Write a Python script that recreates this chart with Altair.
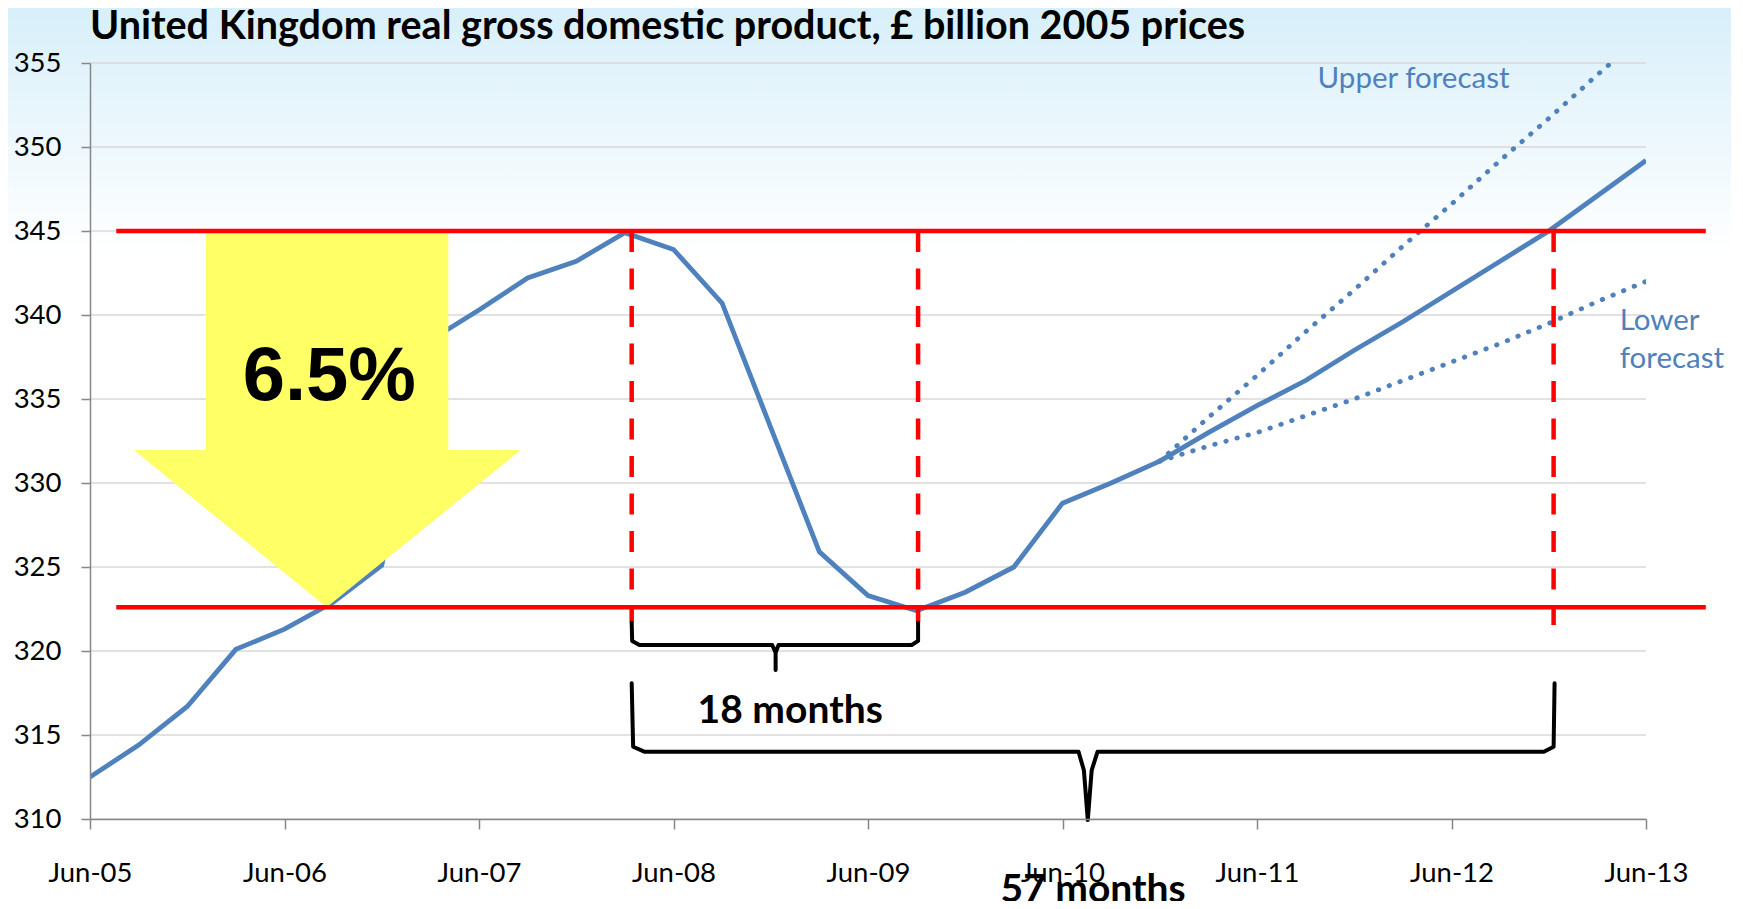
import altair as alt
import pandas as pd

TITLE = "United Kingdom real gross domestic product, £ billion 2005 prices"

# ---- categories / ticks ----
quarters = ["Jun-05", "Sep-05", "Dec-05", "Mar-06", "Jun-06", "Sep-06", "Dec-06",
            "Mar-07", "Jun-07", "Sep-07", "Dec-07", "Mar-08", "Jun-08", "Sep-08",
            "Dec-08", "Mar-09", "Jun-09", "Sep-09", "Dec-09", "Mar-10", "Jun-10",
            "Sep-10", "Dec-10", "Mar-11", "Jun-11", "Sep-11", "Dec-11", "Mar-12",
            "Jun-12", "Sep-12", "Dec-12", "Mar-13", "Jun-13"]
tick_labels = ["Jun-05", "Jun-06", "Jun-07", "Jun-08", "Jun-09", "Jun-10",
               "Jun-11", "Jun-12", "Jun-13"]
y_ticks = [310, 315, 320, 325, 330, 335, 340, 345, 350, 355]

# ---- series (GBP bn, 2005 prices) ----
actual_gdp = [312.5, 314.4, 316.7, 320.1, 321.3, 322.9, 325.1, 338.5, 340.3,
              342.2, 343.2, 344.9, 343.9, 340.7, 333.3, 325.9, 323.3, 322.4,
              323.5, 325.0, 328.8, 330.0, 331.3]          # Jun-05 .. Dec-10
central_fc = [331.3, 333.0, 334.6, 336.1, 337.9, 339.6, 341.4, 343.2, 345.0,
              347.1, 349.2]                                # Dec-10 .. Jun-13
upper_fc = [331.3, 333.9, 336.4, 339.0, 341.5, 344.1, 346.6, 349.2, 351.7,
            354.3, 356.8]
lower_fc = [331.3, 332.2, 333.0, 334.0, 335.0, 336.1, 337.2, 338.3, 339.5,
            340.8, 342.0]

peak_level = 345.0
trough_level = 322.6
peak_q, trough_q, recovery_q = "Mar-08", "Sep-09", "Dec-12"

# ---- tables built from the lists ----
fc_start = quarters.index("Dec-10")
actual_df = pd.DataFrame({"q": list(range(len(actual_gdp))), "v": actual_gdp})
central_df = pd.DataFrame({"q": [fc_start + i for i in range(len(central_fc))], "v": central_fc})
upper_df = pd.DataFrame({"q": [fc_start + i for i in range(len(upper_fc))], "v": upper_fc})
lower_df = pd.DataFrame({"q": [fc_start + i for i in range(len(lower_fc))], "v": lower_fc})
grid_df = pd.DataFrame({"v": y_ticks})

# annotation geometry (in quarter-index / GBP bn units)
pk, tr, rc = quarters.index(peak_q) + 0.14, quarters.index(trough_q) + 0.03, quarters.index(recovery_q) + 0.1
hlines_df = pd.DataFrame({"x0": [0.54, 0.54], "x1": [33.23, 33.23], "v": [peak_level, trough_level]})
vlines_df = pd.DataFrame({"x": [pk, tr, rc], "y0": [peak_level] * 3, "y1": [321.7, 321.7, 321.55]})

shaft_df = pd.DataFrame({"x0": [2.386], "x1": [7.369], "y0": [331.96], "y1": [peak_level]})
head_df = pd.DataFrame({"x": [0.905, 4.868, 8.857],
                        "top": [331.96, 331.96, 331.96],
                        "bot": [331.96, trough_level, 331.96]})

small_brace = [(11.14, 321.7), (11.15, 320.6), (11.30, 320.36), (14.03, 320.36),
               (14.10, 319.9), (14.10, 318.87), (14.10, 319.9), (14.16, 320.36),
               (16.90, 320.36), (17.03, 320.6), (17.03, 321.7)]
big_brace = [(11.14, 318.08), (11.17, 314.3), (11.41, 314.0), (20.33, 314.0),
             (20.44, 312.9), (20.52, 309.94), (20.60, 312.9), (20.72, 314.0),
             (29.90, 314.0), (30.10, 314.3), (30.12, 318.08)]
brace_rows = []
for name, pts in (("s", small_brace), ("b", big_brace)):
    for k, (x, y) in enumerate(pts):
        brace_rows.append({"brace": name, "k": k, "x": x, "y": y})
brace_df = pd.DataFrame(brace_rows)

W, H = 1556, 756
BLUE = "#4f81bd"
RED = "#ff0000"

xs = alt.Scale(domain=[0, 32], nice=False, zero=False)
ys = alt.Scale(domain=[310, 355], nice=False, zero=False)

label_expr = "[" + ",".join("'%s'" % t for t in tick_labels) + "][round(datum.value/4)]"

x_axis = alt.Axis(values=list(range(0, 33, 4)), labelExpr=label_expr, grid=False,
                  domainColor="#868686", domainWidth=1.5, tickColor="#868686",
                  tickWidth=1.5, tickSize=10, labelFont="Lato", labelFontSize=27.5,
                  labelColor="#000000", labelPadding=52, labelBaseline="alphabetic",
                  labelFlush=False, labelOverlap=False, title=None, zindex=1)
y_axis = alt.Axis(values=y_ticks, grid=False, domainColor="#868686", domainWidth=1.5,
                  tickColor="#868686", tickWidth=1.5, tickSize=9, labelFont="Lato",
                  labelFontSize=27.5, labelColor="#000000", labelPadding=20,
                  title=None, zindex=1)

one = pd.DataFrame({"a": [0]})

bg = alt.Chart(one).mark_rect(
    fill=alt.LinearGradient(gradient="linear", x1=0, x2=0, y1=0, y2=1,
                            stops=[alt.GradientStop(color="#d6eff9", offset=0),
                                   alt.GradientStop(color="#e2f3fb", offset=0.28),
                                   alt.GradientStop(color="#f0f9fd", offset=0.64),
                                   alt.GradientStop(color="#ffffff", offset=1)])
).encode(x=alt.value(-90), x2=alt.value(W + 90), y=alt.value(-63), y2=alt.value(187))

title = alt.Chart(pd.DataFrame({"t": [TITLE]})).mark_text(
    font="Lato", fontWeight="bold", fontSize=39.5, color="#000000", align="left",
    baseline="alphabetic"
).encode(x=alt.value(0), y=alt.value(-24), text="t:N")

grid = alt.Chart(grid_df).mark_rule(color="#d9d9d9", strokeWidth=1.3).encode(
    y=alt.Y("v:Q", scale=ys, axis=y_axis))

def line(df, dotted=False):
    kw = dict(color=BLUE, strokeWidth=4.8, clip=True)
    if dotted:
        kw.update(strokeDash=[0.5, 11], strokeCap="round")
    return alt.Chart(df).mark_line(**kw).encode(
        x=alt.X("q:Q", scale=xs, axis=x_axis), y=alt.Y("v:Q", scale=ys, axis=y_axis))

upper = line(upper_df, True)
lower = line(lower_df, True)
actual = line(actual_df)
central = line(central_df)

shaft = alt.Chart(shaft_df).mark_rect(color="#ffff66", opacity=1).encode(
    x=alt.X("x0:Q", scale=xs), x2="x1:Q", y=alt.Y("y0:Q", scale=ys), y2="y1:Q")
head = alt.Chart(head_df).mark_area(color="#ffff66", opacity=1).encode(
    x=alt.X("x:Q", scale=xs), y=alt.Y("top:Q", scale=ys), y2="bot:Q")

hlines = alt.Chart(hlines_df).mark_rule(color=RED, strokeWidth=4.5).encode(
    x=alt.X("x0:Q", scale=xs), x2="x1:Q", y=alt.Y("v:Q", scale=ys))
vlines = alt.Chart(vlines_df).mark_rule(color=RED, strokeWidth=4.5, strokeDash=[21, 16.5]).encode(
    x=alt.X("x:Q", scale=xs), y=alt.Y("y0:Q", scale=ys), y2="y1:Q")

braces = alt.Chart(brace_df).mark_line(color="#000000", strokeWidth=4, strokeJoin="round",
                                       strokeCap="round").encode(
    x=alt.X("x:Q", scale=xs), y=alt.Y("y:Q", scale=ys), detail="brace:N", order="k:Q")

def text(df, **kw):
    return alt.Chart(df).mark_text(**kw).encode(
        x=alt.X("x:Q", scale=xs), y=alt.Y("y:Q", scale=ys), text="t:N")

pct = text(pd.DataFrame({"x": [4.92], "y": [334.94], "t": ["6.5%"]}),
           font="Liberation Sans", fontWeight="bold", fontSize=76, align="center",
           baseline="alphabetic", color="#000000")
m18 = text(pd.DataFrame({"x": [14.4], "y": [315.70], "t": ["18 months"]}),
           font="Lato", fontWeight="bold", fontSize=39, align="center",
           baseline="alphabetic", color="#000000")
m57 = text(pd.DataFrame({"x": [20.63], "y": [305.05], "t": ["57 months"]}),
           font="Lato", fontWeight="bold", fontSize=39, align="center",
           baseline="alphabetic", color="#000000")
up_t = text(pd.DataFrame({"x": [27.22], "y": [353.49], "t": ["Upper forecast"]}),
            font="Lato", fontSize=29.5, align="center", baseline="alphabetic", color=BLUE)
lo_t = text(pd.DataFrame({"x": [31.46, 31.46], "y": [339.11, 336.85], "t": ["Lower", "forecast"]}),
            font="Lato", fontSize=29.5, align="left", baseline="alphabetic", color=BLUE)

chart = alt.layer(
    bg, title, grid, upper, lower, actual, central, shaft, head, hlines, vlines, braces,
    pct, m18, m57, up_t, lo_t
).properties(
    width=W, height=H,
    autosize=alt.AutoSizeParams(type="none"),
    padding={"left": 82, "top": 55, "right": 85, "bottom": 82},
).configure_view(stroke=None)

chart.save("out.html", embed_options={"renderer": "svg", "actions": False})
